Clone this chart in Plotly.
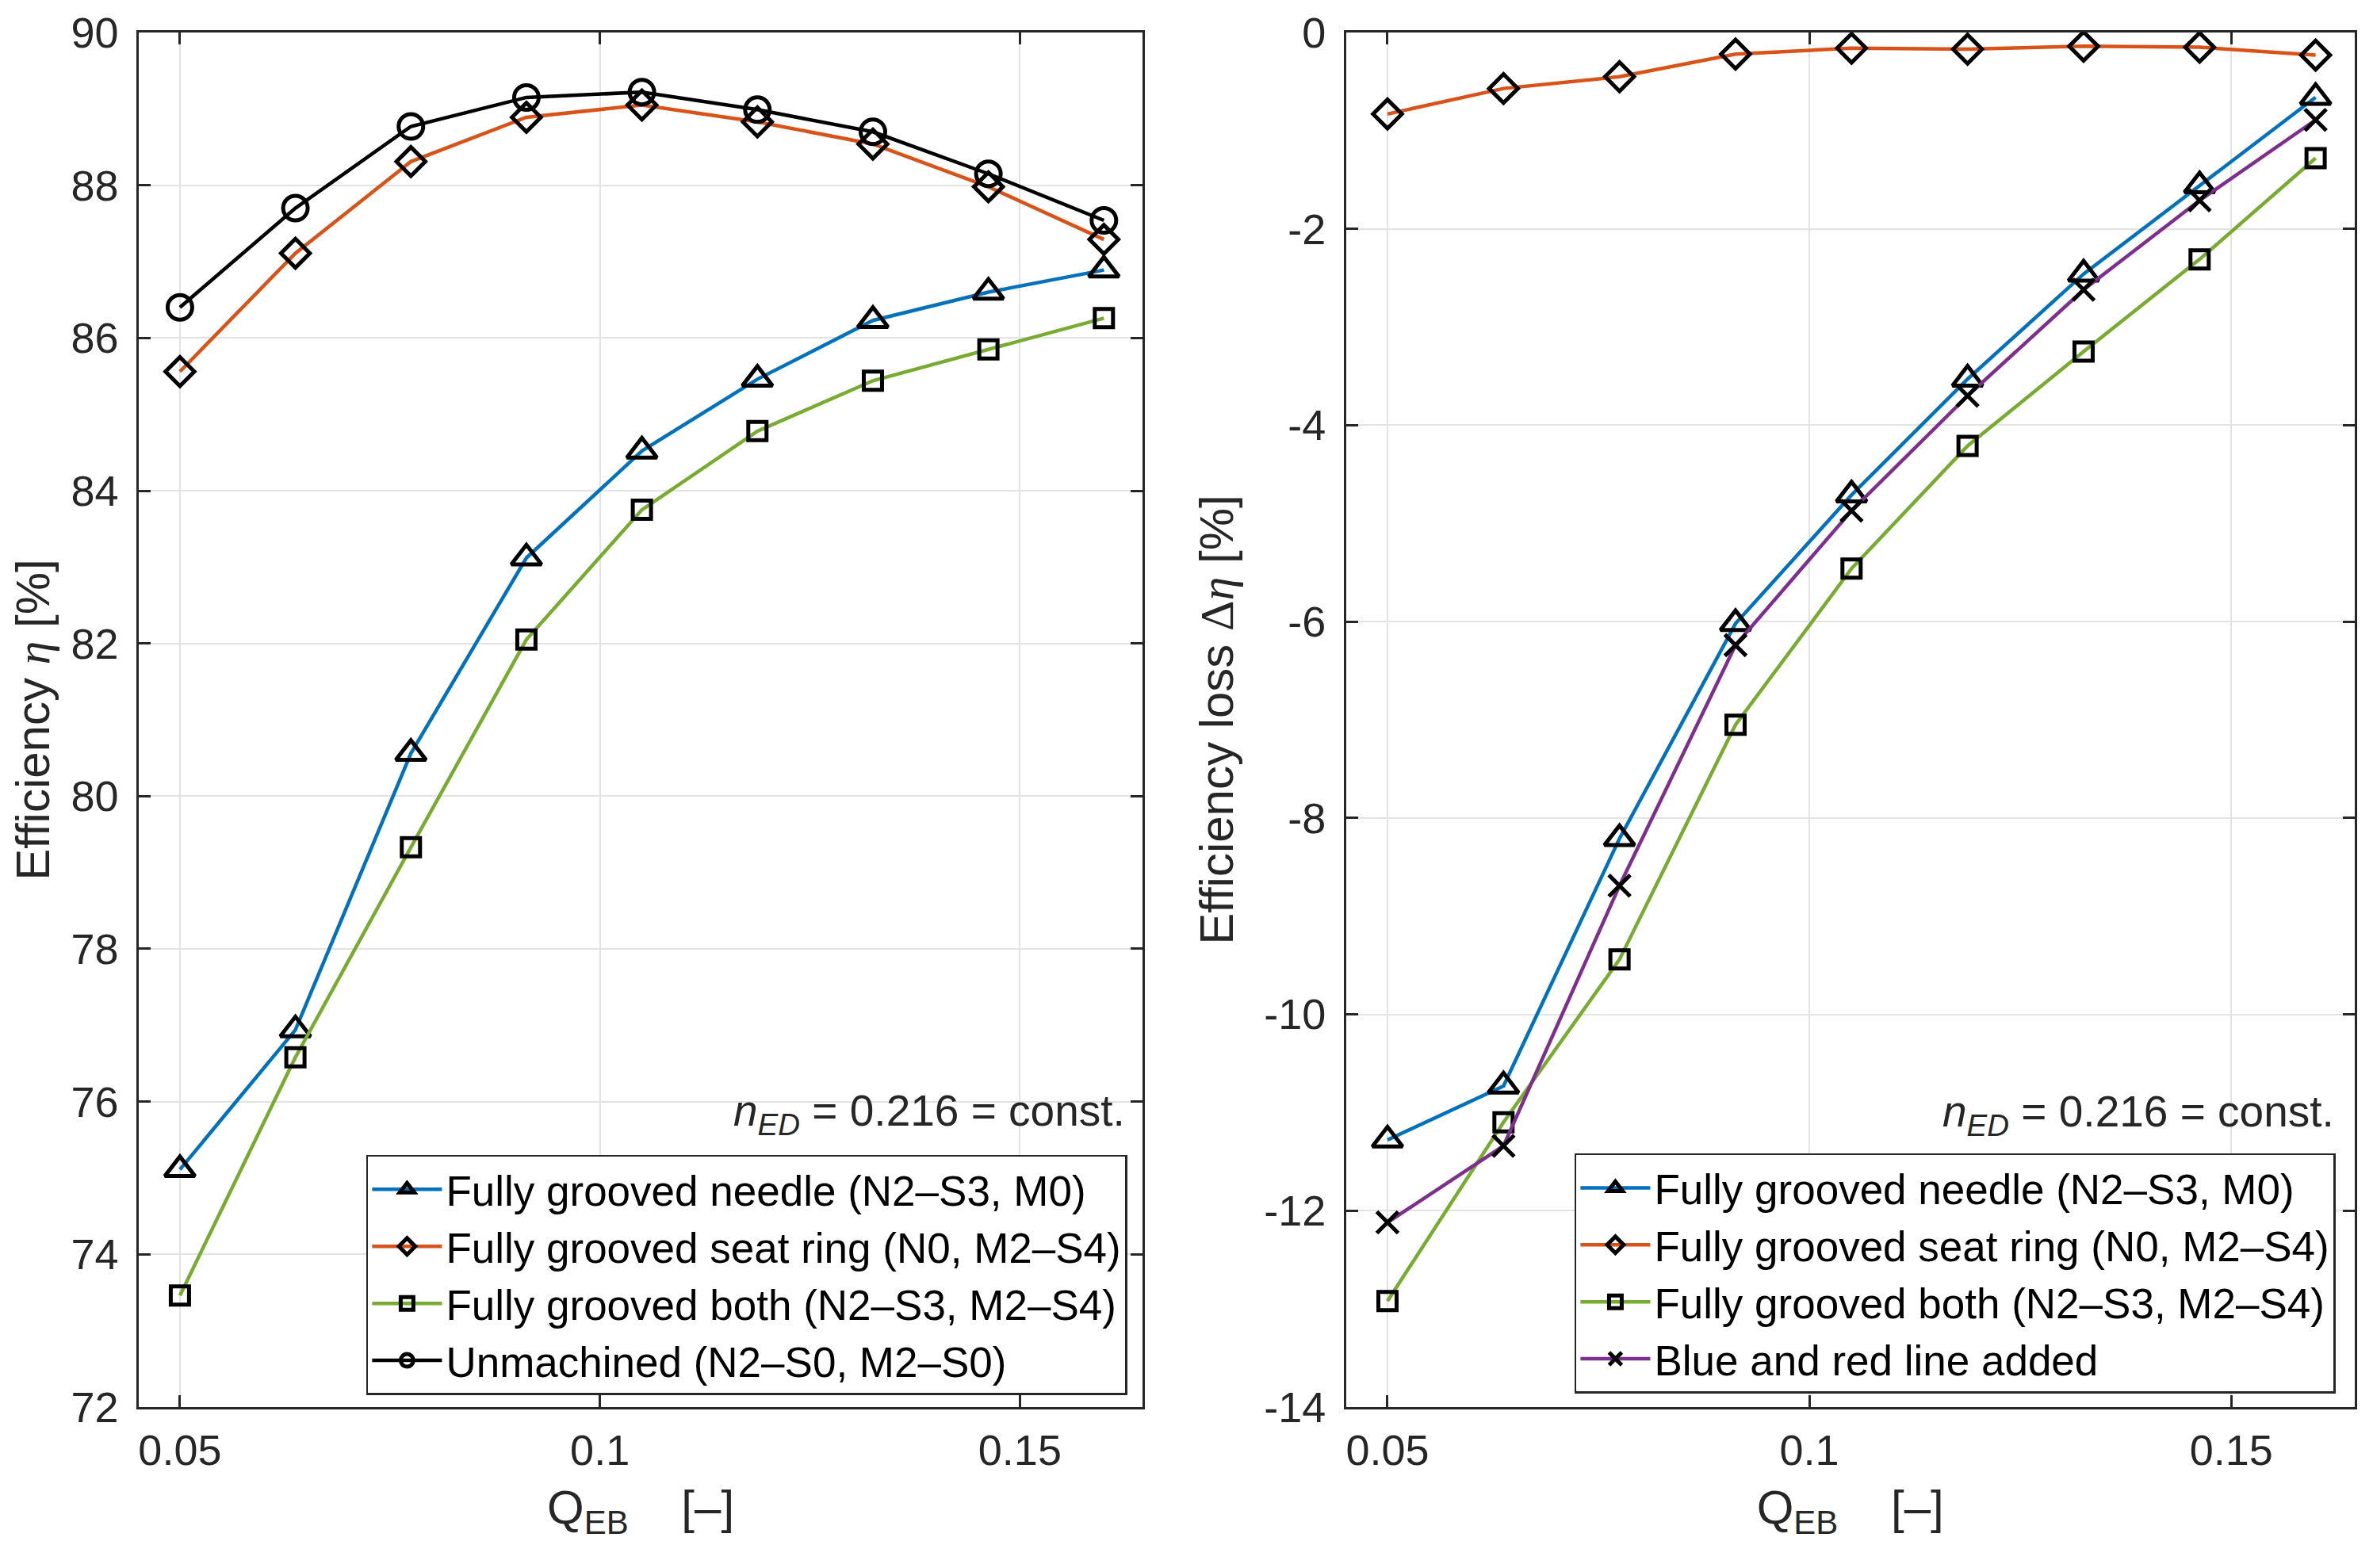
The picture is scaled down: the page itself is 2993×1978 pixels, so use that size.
import plotly.graph_objects as go

# ---------------- data ----------------
q_eb = [0.05, 0.06375, 0.0775, 0.09125, 0.105, 0.11875, 0.1325, 0.14625, 0.16]

eta_needle = [75.11, 76.94, 80.56, 83.12, 84.52, 85.46, 86.23, 86.60, 86.89]
eta_seat = [85.56, 87.11, 88.31, 88.89, 89.05, 88.83, 88.54, 87.98, 87.29]
eta_both = [73.46, 76.58, 79.33, 82.05, 83.75, 84.78, 85.44, 85.85, 86.26]
eta_unmachined = [86.40, 87.70, 88.77, 89.15, 89.22, 88.99, 88.70, 88.15, 87.54]

loss_needle = [-11.28, -10.73, -8.21, -6.02, -4.71, -3.53, -2.46, -1.56, -0.66]
loss_seat = [-0.83, -0.57, -0.45, -0.22, -0.16, -0.17, -0.14, -0.15, -0.23]
loss_both = [-12.92, -11.10, -9.44, -7.05, -5.46, -4.21, -3.25, -2.31, -1.28]
loss_added = [-12.12, -11.34, -8.69, -6.24, -4.87, -3.70, -2.62, -1.71, -0.89]

names_left = ["Fully grooved needle (N2\u2013S3, M0)",
              "Fully grooved seat ring (N0, M2\u2013S4)",
              "Fully grooved both (N2\u2013S3, M2\u2013S4)",
              "Unmachined (N2\u2013S0, M2\u2013S0)"]
names_right = ["Fully grooved needle (N2\u2013S3, M0)",
               "Fully grooved seat ring (N0, M2\u2013S4)",
               "Fully grooved both (N2\u2013S3, M2\u2013S4)",
               "Blue and red line added"]

x_tickvals = [0.05, 0.1, 0.15]
x_ticktext = ["0.05", "0.1", "0.15"]
yl_tickvals = [72, 74, 76, 78, 80, 82, 84, 86, 88, 90]
yl_ticktext = ["72", "74", "76", "78", "80", "82", "84", "86", "88", "90"]
yr_tickvals = [-14, -12, -10, -8, -6, -4, -2, 0]
yr_ticktext = ["-14", "-12", "-10", "-8", "-6", "-4", "-2", "0"]

# ---------------- style ----------------
BLUE = "#0072BD"
RED = "#D95319"
GREEN = "#77AC30"
BLACK = "#000000"
PURPLE = "#7E2F8E"
AX = "#262626"
GRID = "#e3e3e3"
FONT = "Liberation Sans"
SERIF = "Liberation Serif"

fig = go.Figure()

def add(x, y, name, color, symbol, size, xa, ya, legend):
    fig.add_trace(go.Scatter(
        x=x, y=y, name=name, mode="lines+markers",
        line=dict(color=color, width=4.5),
        marker=dict(symbol=symbol, size=size, color="rgba(0,0,0,0)",
                    line=dict(color="black", width=5)),
        xaxis=xa, yaxis=ya, legend=legend))

add(q_eb, eta_needle, names_left[0], BLUE, "triangle-up", 33, "x", "y", "legend")
add(q_eb, eta_seat, names_left[1], RED, "diamond", 28, "x", "y", "legend")
add(q_eb, eta_both, names_left[2], GREEN, "square", 23, "x", "y", "legend")
add(q_eb, eta_unmachined, names_left[3], BLACK, "circle", 31, "x", "y", "legend")

add(q_eb, loss_needle, names_right[0], BLUE, "triangle-up", 33, "x2", "y2", "legend2")
add(q_eb, loss_seat, names_right[1], RED, "diamond", 28, "x2", "y2", "legend2")
add(q_eb, loss_both, names_right[2], GREEN, "square", 23, "x2", "y2", "legend2")
fig.add_trace(go.Scatter(
    x=q_eb, y=loss_added, name=names_right[3], mode="lines+markers",
    line=dict(color=PURPLE, width=4.5),
    marker=dict(symbol="x-thin", size=27, color="black",
                line=dict(color="black", width=5)),
    xaxis="x2", yaxis="y2", legend="legend2"))

axis_common = dict(
    showline=True, linecolor=AX, linewidth=2.5, mirror="ticks",
    ticks="inside", ticklen=15, tickwidth=2.5, tickcolor=AX,
    showgrid=True, gridcolor=GRID, gridwidth=2, zeroline=False,
    automargin=False,
    tickfont=dict(family=FONT, size=54, color=AX),
)

XR = [0.0451, 0.1646]
YDOM = [0.1067, 0.9833]

title_font = dict(family=FONT, size=60, color=AX)
eta = "<span style=\"font-family:%s\"><i>\u03b7</i></span>" % SERIF
delta = "<span style=\"font-family:%s\">\u0394</span>" % SERIF

legend_common = dict(
    bgcolor="white", bordercolor=AX, borderwidth=2.5,
    font=dict(family=FONT, size=53, color="black"),
    itemwidth=88, tracegroupgap=0,
)

fig.update_layout(
    width=2993, height=1978,
    paper_bgcolor="white", plot_bgcolor="white",
    margin=dict(l=0, r=0, t=0, b=0, autoexpand=False),
    font=dict(family=FONT, color=AX),
    xaxis=dict(domain=[0.0558, 0.4788], range=XR, anchor="y",
               tickvals=x_tickvals, ticktext=x_ticktext,
               title=dict(text="Q<sub>EB</sub>    [\u2013]", font=title_font, standoff=22),
               ticklabelstandoff=6, **axis_common),
    yaxis=dict(domain=YDOM, range=[72, 90], anchor="x",
               tickvals=yl_tickvals, ticktext=yl_ticktext,
               title=dict(text="Efficiency " + eta + " [%]", font=title_font, standoff=20),
               ticklabelstandoff=12, **axis_common),
    xaxis2=dict(domain=[0.5646, 0.9895], range=XR, anchor="y2",
                tickvals=x_tickvals, ticktext=x_ticktext,
                title=dict(text="Q<sub>EB</sub>    [\u2013]", font=title_font, standoff=22),
                ticklabelstandoff=6, **axis_common),
    yaxis2=dict(domain=YDOM, range=[-14, 0], anchor="x2",
                tickvals=yr_tickvals, ticktext=yr_ticktext,
                title=dict(text="Efficiency loss " + delta + eta + " [%]", font=title_font, standoff=20),
                ticklabelstandoff=12, **axis_common),
    legend=dict(x=0.4724, y=0.1143, xanchor="right", yanchor="bottom", **legend_common),
    legend2=dict(x=0.9816, y=0.1153, xanchor="right", yanchor="bottom", **legend_common),
    showlegend=True,
)

ann_text = "<i>n</i><sub><i>ED</i></sub> = 0.216 = const."
fig.add_annotation(x=0.1627, y=75.84, xref="x", yref="y", text=ann_text,
                   showarrow=False, xanchor="right", yanchor="middle",
                   font=dict(family=FONT, size=55, color=AX))
fig.add_annotation(x=0.1624, y=-11.02, xref="x2", yref="y2", text=ann_text,
                   showarrow=False, xanchor="right", yanchor="middle",
                   font=dict(family=FONT, size=55, color=AX))

fig.write_html("out.html")
